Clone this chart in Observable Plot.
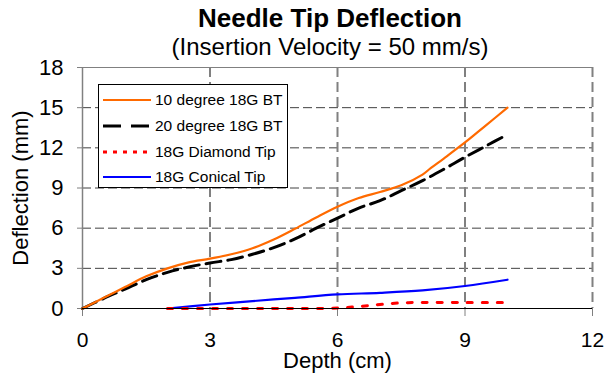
<!DOCTYPE html>
<html>
<head>
<meta charset="utf-8">
<script src="https://cdn.jsdelivr.net/npm/d3@7"></script>
<script src="https://cdn.jsdelivr.net/npm/@observablehq/plot@0.6"></script>
<style>
  html, body { margin: 0; padding: 0; background: white; }
  body { width: 611px; height: 376px; position: relative; overflow: hidden; font-family: "Liberation Sans", Arial, sans-serif; }
  #chart { position: absolute; left: 0; top: 0; }
  .title { position: absolute; left: 130px; width: 400px; text-align: center; line-height: 1; white-space: nowrap; color: black; }
  #t1 { top: 5px; font-size: 26px; font-weight: bold; }
  #t2 { top: 35px; font-size: 24px; }
  #legend { position: absolute; left: 98px; top: 84px; width: 188px; height: 102px; border: 1px solid black; background: white; }
  .row { position: absolute; left: 0; height: 20px; display: flex; align-items: center; }
  .row svg { margin-left: 4px; }
  .row span { margin-left: 4px; font-size: 15.5px; color: black; white-space: nowrap; }
</style>
</head>
<body>
<div id="chart"></div>
<div class="title" id="t1">Needle Tip Deflection</div>
<div class="title" id="t2">(Insertion Velocity = 50 mm/s)</div>
<div id="legend"></div>
<script>
// ---- data ----
const xTicks = [0, 3, 6, 9, 12];
const yTicks = [0, 3, 6, 9, 12, 15, 18];

const seriesNames = ["10 degree 18G BT", "20 degree 18G BT", "18G Diamond Tip", "18G Conical Tip"];

const depth10 = [0, 0.5, 1, 1.5, 2, 2.5, 3, 3.5, 4, 4.5, 5, 5.5, 6, 6.5, 7, 7.5, 8, 8.2, 8.5, 9, 9.5, 10];
const defl10  = [0, 0.8, 1.6, 2.4, 3.0, 3.45, 3.72, 4.05, 4.5, 5.15, 5.95, 6.8, 7.6, 8.25, 8.7, 9.2, 10.0, 10.5, 11.2, 12.4, 13.7, 15.0];

const depth20 = [0, 0.5, 1, 1.5, 2, 2.5, 3, 3.5, 4, 4.5, 5, 5.5, 6, 6.5, 7, 7.5, 8, 8.5, 9, 9.5, 10];
const defl20  = [0, 0.75, 1.45, 2.15, 2.7, 3.1, 3.4, 3.65, 4.05, 4.55, 5.2, 6.0, 6.75, 7.5, 8.05, 8.8, 9.55, 10.4, 11.3, 12.15, 13.0];

const depthDiamond = [2, 3, 4, 5, 6, 6.5, 7, 7.5, 8, 9, 10];
const deflDiamond  = [0, 0, 0, 0, 0.03, 0.15, 0.3, 0.42, 0.45, 0.45, 0.45];

const depthConical = [2, 3, 4, 5, 6, 7, 8, 9, 10];
const deflConical  = [0, 0.3, 0.55, 0.8, 1.05, 1.17, 1.35, 1.68, 2.15];

// ---- styles ----
const styles = [
  {stroke: "#FF6A00", strokeWidth: 2.2, dash: null, legendDash: null},
  {stroke: "#000000", strokeWidth: 3, dash: "15,7", legendDash: "18,10"},
  {stroke: "#FF0000", strokeWidth: 3, dash: "5,10", legendDash: "4,6"},
  {stroke: "#0000FF", strokeWidth: 2.2, dash: null, legendDash: null}
];

const toRows = (xs, ys) => xs.map((x, i) => ({depth: x, defl: ys[i]}));
const series = [
  toRows(depth10, defl10),
  toRows(depth20, defl20),
  toRows(depthDiamond, deflDiamond),
  toRows(depthConical, deflConical)
];

const gridY = yTicks.filter(d => d > 0 && d < 18);
const gridX = xTicks.filter(d => d > 0);

const lineMarks = [3, 2, 1, 0].map(i => Plot.line(series[i], {
  x: "depth", y: "defl",
  stroke: styles[i].stroke,
  strokeWidth: styles[i].strokeWidth,
  strokeDasharray: styles[i].dash,
  curve: "catmull-rom"
}));

const chart = Plot.plot({
  width: 611,
  height: 376,
  marginTop: 67,
  marginBottom: 68,
  marginLeft: 82,
  marginRight: 19,
  style: {fontSize: "22px", fontFamily: "'Liberation Sans', Arial, sans-serif", background: "white", color: "black"},
  x: {domain: [0, 12], label: null},
  y: {domain: [0, 18], label: null},
  marks: [
    Plot.ruleY(gridY, {stroke: "#404040", strokeWidth: 1, strokeDasharray: "9,4"}),
    Plot.ruleX(gridX, {stroke: "#808080", strokeWidth: 2, strokeDasharray: "10,5"}),
    Plot.ruleY([yTicks[yTicks.length - 1]], {stroke: "#808080", strokeWidth: 1}),
    Plot.ruleX([xTicks[0]], {stroke: "#808080", strokeWidth: 1.5}),
    Plot.axisY({ticks: yTicks, tickSize: 5, tickPadding: 14, stroke: "#808080", fill: "black", label: null, fontSize: 22}),
    Plot.axisX({ticks: xTicks, tickSize: 8, tickPadding: 16, stroke: "#808080", fill: "black", label: null, fontSize: 21}),
    ...lineMarks,
    Plot.ruleY([yTicks[0]], {stroke: "black", strokeWidth: 1.2}),
    Plot.text(["Depth (cm)"], {frameAnchor: "bottom", dy: 59, textAnchor: "middle", fontSize: 22, fill: "black"}),
    Plot.text(["Deflection (mm)"], {frameAnchor: "left", dx: -62, textAnchor: "middle", rotate: -90, fontSize: 22, fill: "black"})
  ]
});
document.getElementById("chart").appendChild(chart);

// ---- legend ----
const legend = document.getElementById("legend");
seriesNames.forEach((name, i) => {
  const row = document.createElement("div");
  row.className = "row";
  row.style.top = (5 + i * 25.8) + "px";
  const s = styles[i];
  row.innerHTML = `<svg width="48" height="20"><line x1="0" x2="48" y1="10" y2="10" stroke="${s.stroke}" stroke-width="${s.strokeWidth}" ${s.legendDash ? `stroke-dasharray="${s.legendDash}"` : ""}/></svg><span>${name}</span>`;
  legend.appendChild(row);
});
</script>
</body>
</html>
